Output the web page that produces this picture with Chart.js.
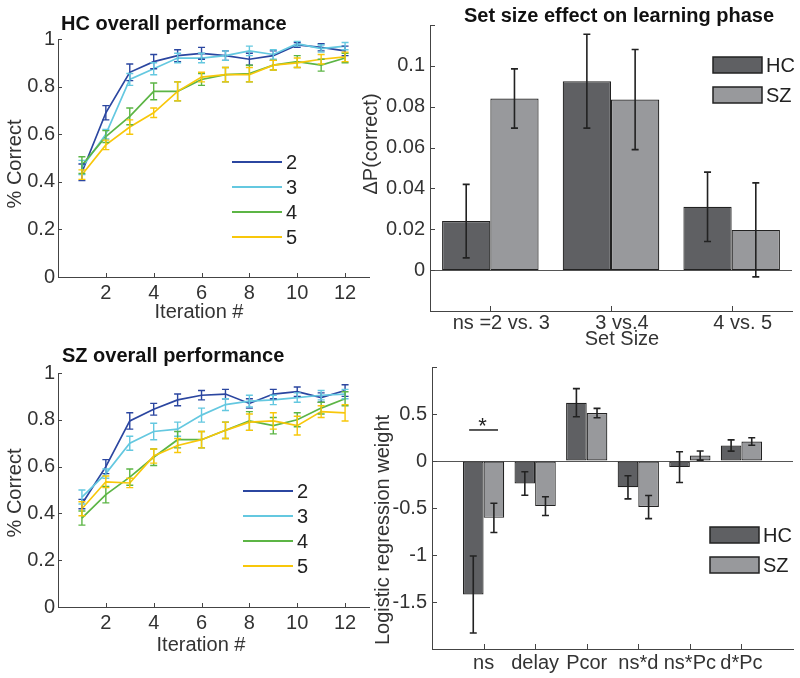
<!DOCTYPE html>
<html>
<head>
<meta charset="utf-8">
<script src="https://cdn.jsdelivr.net/npm/chart.js@4.4.1/dist/chart.umd.min.js"></script>
<style>
  body { margin: 0; background: #fff; width: 800px; height: 678px; position: relative; overflow: hidden; }
  canvas { position: absolute; }
</style>
</head>
<body>
<canvas id="hc" width="372" height="330" style="left:0;top:0"></canvas>
<canvas id="sz" width="372" height="348" style="left:0;top:330px"></canvas>
<canvas id="setsize" width="440" height="350" style="left:360px;top:0"></canvas>
<canvas id="weights" width="440" height="328" style="left:360px;top:350px"></canvas>
<script>
// ---- data ----
const iterations = [1, 2, 3, 4, 5, 6, 7, 8, 9, 10, 11, 12];
const setSizes = ['2', '3', '4', '5'];

// HC learning curves (mean, sem)
const hc2 = [0.44, 0.69, 0.86, 0.905, 0.93, 0.94, 0.93, 0.915, 0.93, 0.975, 0.965, 0.95];
const hc3 = [0.46, 0.60, 0.83, 0.875, 0.92, 0.92, 0.93, 0.95, 0.935, 0.98, 0.96, 0.97];
const hc4 = [0.47, 0.59, 0.675, 0.78, 0.78, 0.83, 0.85, 0.855, 0.89, 0.905, 0.89, 0.92];
const hc5 = [0.43, 0.555, 0.63, 0.69, 0.78, 0.84, 0.85, 0.85, 0.89, 0.90, 0.915, 0.925];
const hc2Err = [0.035, 0.03, 0.035, 0.03, 0.025, 0.025, 0.02, 0.025, 0.02, 0.01, 0.015, 0.02];
const hc3Err = [0.03, 0.02, 0.025, 0.025, 0.02, 0.02, 0.02, 0.02, 0.02, 0.01, 0.015, 0.015];
const hc4Err = [0.035, 0.025, 0.035, 0.035, 0.04, 0.025, 0.03, 0.035, 0.02, 0.025, 0.025, 0.02];
const hc5Err = [0.02, 0.02, 0.03, 0.02, 0.04, 0.02, 0.03, 0.03, 0.02, 0.02, 0.02, 0.02];

// SZ learning curves (mean, sem)
const sz2 = [0.44, 0.60, 0.795, 0.845, 0.885, 0.905, 0.91, 0.87, 0.91, 0.92, 0.895, 0.925];
const sz3 = [0.47, 0.57, 0.70, 0.75, 0.76, 0.82, 0.865, 0.88, 0.885, 0.895, 0.905, 0.91];
const sz4 = [0.38, 0.48, 0.555, 0.64, 0.715, 0.715, 0.755, 0.795, 0.775, 0.80, 0.85, 0.89];
const sz5 = [0.42, 0.535, 0.53, 0.645, 0.69, 0.715, 0.755, 0.79, 0.795, 0.775, 0.835, 0.83];
const sz2Err = [0.02, 0.03, 0.035, 0.025, 0.025, 0.02, 0.02, 0.02, 0.02, 0.02, 0.02, 0.025];
const sz3Err = [0.03, 0.02, 0.03, 0.035, 0.03, 0.03, 0.025, 0.025, 0.02, 0.02, 0.02, 0.02];
const sz4Err = [0.03, 0.035, 0.035, 0.035, 0.035, 0.035, 0.035, 0.04, 0.035, 0.03, 0.025, 0.03];
const sz5Err = [0.03, 0.025, 0.02, 0.03, 0.03, 0.035, 0.035, 0.035, 0.035, 0.04, 0.025, 0.035];

// set size effect on learning phase
const comparisons = ['ns =2 vs. 3', '3 vs.4', '4 vs. 5'];
const hcDeltaP = [0.024, 0.0925, 0.031];
const hcDeltaPErr = [0.018, 0.023, 0.017];
const szDeltaP = [0.084, 0.0835, 0.0197];
const szDeltaPErr = [0.0145, 0.0245, 0.023];

// logistic regression weights
const regressors = ['ns', 'delay', 'Pcor', 'ns*d', 'ns*Pc', 'd*Pc'];
const hcWeights = [-1.42, -0.24, 0.62, -0.28, -0.065, 0.165];
const hcWeightErr = [0.41, 0.125, 0.15, 0.123, 0.163, 0.06];
const szWeights = [-0.605, -0.48, 0.51, -0.49, 0.058, 0.208];
const szWeightErr = [0.155, 0.1, 0.05, 0.123, 0.049, 0.04];

const lineColors = ['#2b46a0', '#64c8e0', '#5cb545', '#f8c70a'];
const hcGray = '#5f6063';
const szGray = '#98999c';

Chart.defaults.font.family = '"Liberation Sans", Arial, Helvetica, sans-serif';
Chart.defaults.color = '#333';

const tickFont = { size: 20, lineHeight: 1.2 };
const axisColor = '#444';
const plainFont = '20px "Liberation Sans", Arial, sans-serif';
const boldFont = 'bold 20px "Liberation Sans", Arial, sans-serif';

// ---- small plugins ----
const errorBars = {
  id: 'errorBars',
  afterDatasetsDraw(chart, args, opts) {
    const ctx = chart.ctx;
    const y = chart.scales.y;
    ctx.save();
    ctx.lineWidth = opts.width;
    chart.data.datasets.forEach((ds, di) => {
      if (!ds.errors) return;
      const meta = chart.getDatasetMeta(di);
      ctx.strokeStyle = opts.color || ds.borderColor;
      meta.data.forEach((el, i) => {
        const v = meta.controller.getParsed(i).y;
        const top = y.getPixelForValue(v + ds.errors[i]);
        const bot = y.getPixelForValue(v - ds.errors[i]);
        ctx.beginPath();
        ctx.moveTo(el.x, top); ctx.lineTo(el.x, bot);
        ctx.moveTo(el.x - opts.cap, top); ctx.lineTo(el.x + opts.cap, top);
        ctx.moveTo(el.x - opts.cap, bot); ctx.lineTo(el.x + opts.cap, bot);
        ctx.stroke();
      });
    });
    ctx.restore();
  }
};

// matlab style ticks pointing into the plot
const inwardTicks = {
  id: 'inwardTicks',
  afterDatasetsDraw(chart, args, opts) {
    const { ctx, chartArea: a, scales: { x, y } } = chart;
    ctx.save();
    ctx.strokeStyle = axisColor;
    ctx.lineWidth = 1;
    ctx.beginPath();
    y.ticks.forEach(t => {
      const py = Math.round(y.getPixelForValue(t.value)) + 0.5;
      ctx.moveTo(a.left, py); ctx.lineTo(a.left + opts.length, py);
    });
    x.ticks.forEach((t, i) => {
      if (opts.skipX && opts.skipX(t.value)) return;
      const px = Math.round(x.getPixelForTick(i)) + 0.5;
      ctx.moveTo(px, a.bottom); ctx.lineTo(px, a.bottom - opts.length);
    });
    ctx.stroke();
    ctx.restore();
  }
};

const panelText = {
  id: 'panelText',
  afterDraw(chart, args, opts) {
    const ctx = chart.ctx;
    (opts.items || []).forEach(it => {
      ctx.save();
      ctx.font = it.font || plainFont;
      ctx.fillStyle = it.color || '#333';
      ctx.textAlign = it.align || 'center';
      ctx.textBaseline = it.baseline || 'alphabetic';
      ctx.translate(it.x, it.y);
      if (it.rotate) ctx.rotate(it.rotate);
      ctx.fillText(it.text, 0, 0);
      ctx.restore();
    });
  }
};

const panelLegend = {
  id: 'panelLegend',
  afterDraw(chart, args, opts) {
    const ctx = chart.ctx;
    ctx.save();
    ctx.font = plainFont;
    ctx.textAlign = 'left';
    ctx.textBaseline = 'middle';
    chart.data.datasets.forEach((ds, i) => {
      const y = opts.y + i * opts.rowGap;
      if (opts.kind === 'line') {
        ctx.strokeStyle = ds.borderColor;
        ctx.lineWidth = 2;
        ctx.beginPath(); ctx.moveTo(opts.x, y); ctx.lineTo(opts.x + opts.w, y); ctx.stroke();
      } else {
        ctx.fillStyle = ds.backgroundColor;
        ctx.fillRect(opts.x, y - opts.h / 2, opts.w, opts.h);
        ctx.strokeStyle = '#222';
        ctx.lineWidth = 1.5;
        ctx.strokeRect(opts.x, y - opts.h / 2, opts.w, opts.h);
      }
      ctx.fillStyle = '#222';
      ctx.fillText(ds.label, opts.x + opts.w + opts.gap, y + 1);
    });
    ctx.restore();
  }
};

const sigBracket = {
  id: 'sigBracket',
  afterDatasetsDraw(chart, args, opts) {
    const { ctx, scales: { x, y } } = chart;
    ctx.save();
    ctx.strokeStyle = '#222';
    ctx.fillStyle = '#222';
    ctx.lineWidth = 1.5;
    ctx.font = '22px "Liberation Sans", Arial, sans-serif';
    ctx.textAlign = 'center';
    (opts.marks || []).forEach(m => {
      const py = y.getPixelForValue(m.level);
      ctx.beginPath();
      ctx.moveTo(x.getPixelForValue(m.from), py);
      ctx.lineTo(x.getPixelForValue(m.to), py);
      ctx.stroke();
      ctx.fillText(m.text, x.getPixelForValue((m.from + m.to) / 2) - 1, py + 3);
    });
    ctx.restore();
  }
};

// matlab-like tick text: 0, 0.2, 1 (no padded decimals)
function plainNumber(v) {
  if (Math.abs(v) < 1e-9) return '0';
  return String(+v.toFixed(4));
}

// hide first and last tick label (matlab limits without labels)
function hideEnds(v, i, ticks) {
  if (i === 0 || i === ticks.length - 1) return '';
  return plainNumber(v);
}

function zeroLine(ctx) {
  return ctx.tick && Math.abs(ctx.tick.value) < 1e-9 ? '#555' : 'rgba(0,0,0,0)';
}

// ---- learning curve panels ----
function learningChart(id, means, errs, t) {
  return new Chart(document.getElementById(id), {
    type: 'line',
    data: {
      datasets: setSizes.map((s, k) => ({
        label: s,
        data: iterations.map((x, i) => ({ x: x, y: means[k][i] })),
        errors: errs[k],
        borderColor: lineColors[k],
        borderWidth: 1.7,
        pointRadius: 0,
        tension: 0,
        fill: false,
        order: 4 - k
      }))
    },
    options: {
      responsive: false,
      animation: false,
      events: [],
      layout: { padding: { left: 0, top: t.top, right: 3, bottom: 0 } },
      plugins: {
        legend: { display: false },
        tooltip: { enabled: false },
        errorBars: { cap: 3.5, width: 1.4 },
        inwardTicks: { length: 4, skipX: v => v === 0 },
        panelText: { items: t.texts },
        panelLegend: Object.assign({ kind: 'line', w: 50, gap: 4, rowGap: 25 }, t.legend)
      },
      scales: {
        x: {
          type: 'linear', min: 0, max: 13,
          grid: { display: false, drawTicks: false },
          border: { color: axisColor, width: 1 },
          ticks: {
            stepSize: 2, includeBounds: false, padding: 4, maxRotation: 0,
            font: tickFont, color: '#333',
            callback: v => (v === 0 ? '' : String(v))
          },
          afterFit: s => { s.height = t.xHeight; }
        },
        y: {
          min: 0, max: 1,
          grid: { display: false, drawTicks: false },
          border: { color: axisColor, width: 1 },
          ticks: { stepSize: 0.2, padding: 3, font: tickFont, color: '#333', callback: plainNumber },
          afterFit: s => { s.width = 58; }
        }
      }
    },
    plugins: [errorBars, inwardTicks, panelText, panelLegend]
  });
}

learningChart('hc', [hc2, hc3, hc4, hc5], [hc2Err, hc3Err, hc4Err, hc5Err], {
  top: 39, xHeight: 53,
  legend: { x: 232, y: 162 },
  texts: [
    { text: 'HC overall performance', font: boldFont, color: '#111', x: 61, y: 30, align: 'left' },
    { text: '% Correct', x: 15, y: 164, rotate: -Math.PI / 2, baseline: 'middle' },
    { text: 'Iteration #', x: 199, y: 318 }
  ]
});

learningChart('sz', [sz2, sz3, sz4, sz5], [sz2Err, sz3Err, sz4Err, sz5Err], {
  top: 43, xHeight: 71,
  legend: { x: 243, y: 161 },
  texts: [
    { text: 'SZ overall performance', font: boldFont, color: '#111', x: 62, y: 32, align: 'left' },
    { text: '% Correct', x: 15, y: 163, rotate: -Math.PI / 2, baseline: 'middle' },
    { text: 'Iteration #', x: 201, y: 321 }
  ]
});

// ---- set size effect ----
new Chart(document.getElementById('setsize'), {
  type: 'bar',
  data: {
    labels: comparisons,
    datasets: [
      { label: 'HC', data: hcDeltaP, errors: hcDeltaPErr, backgroundColor: hcGray },
      { label: 'SZ', data: szDeltaP, errors: szDeltaPErr, backgroundColor: szGray }
    ].map(d => Object.assign(d, {
      borderColor: '#222', borderWidth: 1.2, borderSkipped: false,
      categoryPercentage: 0.8, barPercentage: 1
    }))
  },
  options: {
    responsive: false,
    animation: false,
    events: [],
    layout: { padding: { left: 0, top: 25, right: 8, bottom: 0 } },
    plugins: {
      legend: { display: false },
      tooltip: { enabled: false },
      errorBars: { cap: 3.5, width: 1.6, color: '#222' },
      inwardTicks: { length: 5 },
      panelLegend: { kind: 'box', x: 353, y: 65, w: 49, h: 16, gap: 4, rowGap: 30 },
      panelText: {
        items: [
          { text: 'Set size effect on learning phase', font: boldFont, color: '#111', x: 259, y: 21.5 },
          { text: 'ΔP(correct)', x: 11, y: 144, rotate: -Math.PI / 2, baseline: 'middle' },
          { text: 'Set Size', x: 262, y: 345 }
        ]
      }
    },
    scales: {
      x: {
        grid: { display: false, drawTicks: false },
        border: { color: axisColor, width: 1 },
        ticks: { padding: 0, labelOffset: 11, autoSkip: false, maxRotation: 0, font: tickFont, color: '#333' },
        afterFit: s => { s.height = 39; }
      },
      y: {
        min: -0.02, max: 0.12,
        grid: { drawTicks: false, color: zeroLine, lineWidth: 1 },
        border: { color: axisColor, width: 1 },
        ticks: { stepSize: 0.02, padding: 5, font: tickFont, color: '#333', callback: hideEnds },
        afterFit: s => { s.width = 70; }
      }
    }
  },
  plugins: [errorBars, inwardTicks, panelText, panelLegend]
});

// ---- logistic regression weights ----
new Chart(document.getElementById('weights'), {
  type: 'bar',
  data: {
    datasets: [
      { label: 'HC', data: regressors.map((r, i) => ({ x: i + 1, y: hcWeights[i] })), errors: hcWeightErr, backgroundColor: hcGray },
      { label: 'SZ', data: regressors.map((r, i) => ({ x: i + 1, y: szWeights[i] })), errors: szWeightErr, backgroundColor: szGray }
    ].map(d => Object.assign(d, {
      borderColor: '#222', borderWidth: 1.2, borderSkipped: false,
      categoryPercentage: 0.8, barPercentage: 1
    }))
  },
  options: {
    responsive: false,
    animation: false,
    events: [],
    layout: { padding: { left: 0, top: 13, right: 7, bottom: 0 } },
    plugins: {
      legend: { display: false },
      tooltip: { enabled: false },
      errorBars: { cap: 3.5, width: 1.6, color: '#222' },
      inwardTicks: { length: 5, skipX: v => v === 0 || v === 7 },
      panelLegend: { kind: 'box', x: 350, y: 185, w: 49, h: 16, gap: 4, rowGap: 30 },
      sigBracket: { marks: [{ from: 0.72, to: 1.28, level: 0.33, text: '*' }] },
      panelText: {
        items: [
          { text: 'Logistic regression weight', x: 23, y: 180, rotate: -Math.PI / 2, baseline: 'middle' }
        ]
      }
    },
    scales: {
      x: {
        type: 'linear', min: 0, max: 7, offset: false,
        grid: { display: false, drawTicks: false },
        border: { color: axisColor, width: 1 },
        ticks: {
          stepSize: 1, autoSkip: false, maxRotation: 0, padding: 2,
          font: tickFont, color: '#333',
          callback: v => regressors[v - 1] || ''
        },
        afterFit: s => { s.height = 29; }
      },
      y: {
        min: -2, max: 1,
        grid: { drawTicks: false, color: zeroLine, lineWidth: 1 },
        border: { color: axisColor, width: 1 },
        ticks: { stepSize: 0.5, padding: 5, font: tickFont, color: '#333', callback: hideEnds },
        afterFit: s => { s.width = 72; }
      }
    }
  },
  plugins: [errorBars, inwardTicks, panelText, panelLegend, sigBracket]
});
</script>
</body>
</html>
